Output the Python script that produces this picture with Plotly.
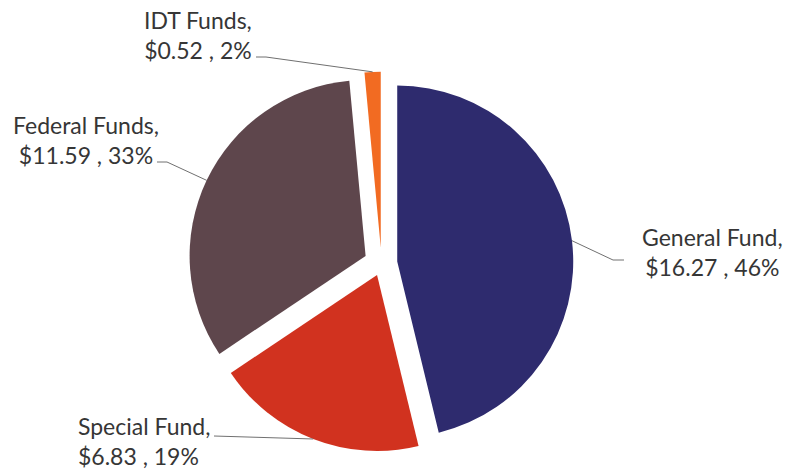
import math
import plotly.graph_objects as go

# Funding sources (in $ millions) and their stated shares
names = ["General Fund", "Special Fund", "Federal Funds", "IDT Funds"]
amounts = [16.27, 6.83, 11.59, 0.52]
shares = [46, 19, 33, 2]
colors = ["#2E2B6E", "#D1321F", "#5E464C", "#F26B22"]
pulls = [0.09, 0.07, 0.10, 0.09]

W, H = 787, 471

# Pie placement in pixels
CX, CY, R = 381.5, 263.5, 176.0
half = R * (1 + max(pulls))

# Label blocks: (x, y, xanchor) in pixels, plus leader-line stubs near each label
label_pos = [(712, 252, "center"), (76, 441, "left"), (86, 140, "center"), (198, 35, "center")]
stubs = [
    [(624, 260), (613, 260)],
    [(214, 436)],
    [(157, 162), (167, 162)],
    [(256, 57), (266, 57)],
]


def px(x):
    return x / W


def py(y):
    return 1 - y / H


fig = go.Figure(
    go.Pie(
        labels=names,
        values=amounts,
        sort=False,
        direction="clockwise",
        rotation=0,
        pull=pulls,
        marker=dict(colors=colors, line=dict(width=0)),
        textinfo="none",
        hoverinfo="label+value",
        showlegend=False,
        domain=dict(
            x=[px(CX - half), px(CX + half)],
            y=[py(CY + half), py(CY - half)],
        ),
    )
)

# Leader lines: from each label stub to the outer arc at the slice's mid-angle
total = sum(amounts)
start = 0.0
shapes = []
annotations = []
for i, v in enumerate(amounts):
    span = 360.0 * v / total
    mid = math.radians(start + span / 2)
    start += span
    ox = CX + pulls[i] * R * math.sin(mid)
    oy = CY - pulls[i] * R * math.cos(mid)
    ax = ox + R * math.sin(mid)
    ay = oy - R * math.cos(mid)
    pts = stubs[i] + [(ax, ay)]
    path = "M " + " L ".join(f"{px(x):.5f},{py(y):.5f}" for x, y in pts)
    shapes.append(dict(type="path", xref="paper", yref="paper", path=path,
                       line=dict(color="#707070", width=1)))

    lx, ly, anchor = label_pos[i]
    annotations.append(dict(
        x=px(lx), y=py(ly), xref="paper", yref="paper",
        xanchor=anchor, yanchor="middle", align=anchor,
        showarrow=False,
        text=f"{names[i]},<br>${v:.2f} , {shares[i]}%",
        font=dict(family="Lato", size=23, color="#363636"),
    ))

fig.update_layout(
    width=W, height=H,
    margin=dict(l=0, r=0, t=0, b=0),
    paper_bgcolor="white",
    plot_bgcolor="white",
    shapes=shapes,
    annotations=annotations,
)

fig.write_html("out.html")
